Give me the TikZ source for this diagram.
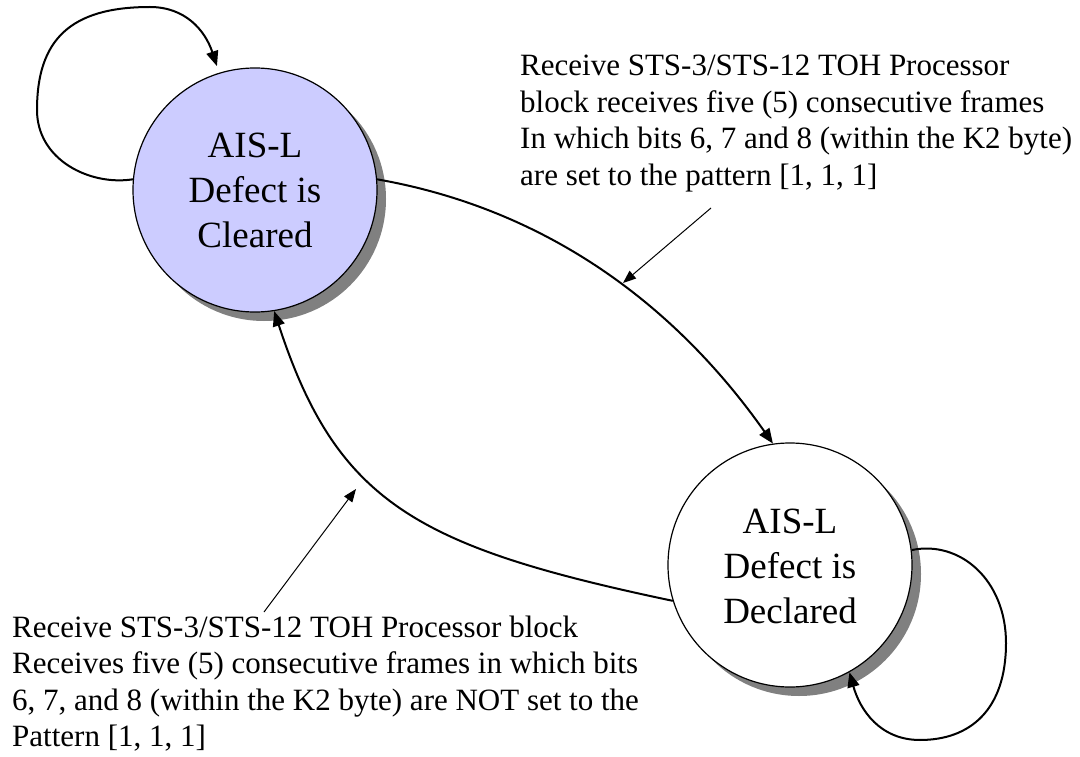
\documentclass[tikz,border=0pt]{standalone}
\usepackage{fontspec}
\setmainfont{Liberation Serif}
\usetikzlibrary{arrows.meta}
\definecolor{lav}{HTML}{CCCCFF}
\definecolor{shade}{HTML}{808080}
\begin{document}
\begin{tikzpicture}[x=1pt,y=-1pt,
  state/.style={circle, draw=black, line width=1.2pt, minimum size=244pt, inner sep=0pt, font=\fontsize{37}{45}\selectfont},
  shadowc/.style={circle, fill=shade, minimum size=244pt, inner sep=0pt},
  trans/.style={line width=2pt, -{Triangle[length=15pt,width=12pt]}},
  pointer/.style={line width=1pt, -{Triangle[length=13pt,width=10pt]}},
  note/.style={anchor=base west, inner sep=0pt, font=\fontsize{31}{36.5}\selectfont}]
\useasboundingbox (0,0) rectangle (1080,757);
\node[shadowc] (Cs) at (264,199) {};
\node[shadowc] (Ds) at (799,574) {};
\node[state, fill=lav] (C) at (255,190) {\raisebox{-4pt}[\height][\depth]{\begin{tabular}{@{}c@{}}AIS-L\\Defect is\\Cleared\end{tabular}}};
\node[state, fill=white] (D) at (790,565) {\raisebox{-4pt}[\height][\depth]{\begin{tabular}{@{}c@{}}AIS-L\\Defect is\\Declared\end{tabular}}};
\draw[trans] (C.5) .. controls (580,215) and (700,340) .. (D.98);
\draw[trans] (D.197) .. controls (417,547) and (337,503) .. (C.-81);
\draw[trans, shorten >=7pt] (C.175) .. controls (90,186) and (37,160) .. (37,110) .. controls (37,40) and (70,7) .. (150,7) .. controls (185,7) and (205,30) .. (C.107);
\draw[trans] (D.7) .. controls (960,540) and (1006,580) .. (1006,643) .. controls (1006,710) and (970,740) .. (920,740) .. controls (880,740) and (860,710) .. (D.-61);
\node[note] (T1) at (520,76) {\begin{tabular}[t]{@{}l@{}}Receive STS-3/STS-12 TOH Processor\\block receives five (5) consecutive frames\\In which bits 6, 7 and 8 (within the K2 byte)\\are set to the pattern [1, 1, 1]\end{tabular}};
\node[note] (T2) at (12,637) {\begin{tabular}[t]{@{}l@{}}Receive STS-3/STS-12 TOH Processor block\\Receives five (5) consecutive frames in which bits\\6, 7, and 8 (within the K2 byte) are NOT set to the\\Pattern [1, 1, 1]\end{tabular}};
\coordinate (n1) at (711,208);
\coordinate (m1) at (623,283);
\draw[pointer] (n1) -- (m1);
\coordinate (n2) at (264,612);
\coordinate (m2) at (356,489);
\draw[pointer] (n2) -- (m2);
\end{tikzpicture}
\end{document}
